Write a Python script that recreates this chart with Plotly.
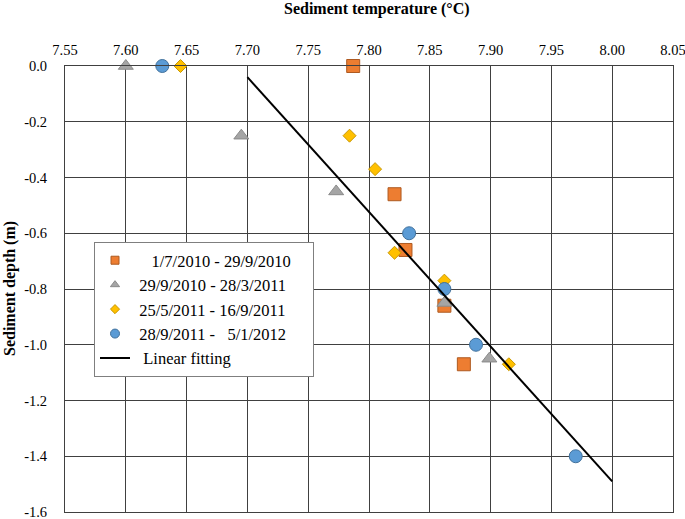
import plotly.graph_objects as go

# Series 1: 1/7/2010 - 29/9/2010
s1_temp = [7.787, 7.821, 7.830, 7.862, 7.878]
s1_depth = [0.0, -0.46, -0.66, -0.86, -1.07]
# Series 2: 29/9/2010 - 28/3/2011
s2_temp = [7.600, 7.695, 7.773, 7.862, 7.899]
s2_depth = [0.0, -0.25, -0.45, -0.85, -1.05]
# Series 3: 25/5/2011 - 16/9/2011
s3_temp = [7.645, 7.784, 7.805, 7.821, 7.862, 7.915]
s3_depth = [0.0, -0.25, -0.37, -0.67, -0.77, -1.07]
# Series 4: 28/9/2011 - 5/1/2012
s4_temp = [7.630, 7.833, 7.862, 7.888, 7.970]
s4_depth = [0.0, -0.60, -0.80, -1.00, -1.40]
# Linear fitting endpoints
fit_temp = [7.70, 8.00]
fit_depth = [-0.04, -1.49]

x_ticks = [7.55, 7.60, 7.65, 7.70, 7.75, 7.80, 7.85, 7.90, 7.95, 8.00, 8.05]
y_ticks = [0.0, -0.2, -0.4, -0.6, -0.8, -1.0, -1.2, -1.4, -1.6]

NB = "\u00a0"
TAIL = NB * 4
names = [
    NB * 4 + "1/7/2010 - 29/9/2010" + TAIL,
    NB + "29/9/2010 - 28/3/2011" + TAIL,
    NB + "25/5/2011 - 16/9/2011" + TAIL,
    NB + "28/9/2011 -" + NB * 3 + "5/1/2012" + TAIL,
    NB * 2 + "Linear fitting",
]

series = [
    (s1_temp, s1_depth, "square", 13, 8, "#ED7D31", "#AE5A21"),
    (s2_temp, s2_depth, "triangle-up", 13, 8, "#A5A5A5", "#8A8A8A"),
    (s3_temp, s3_depth, "diamond", 10, 7, "#FFC000", "#C99700"),
    (s4_temp, s4_depth, "circle", 13, 9, "#5B9BD5", "#41719C"),
]

fig = go.Figure()
for i, (xs, ys, sym, size, lsize, col, lcol) in enumerate(series):
    fig.add_trace(go.Scatter(x=xs, y=ys, mode="markers", name=names[i], showlegend=False,
                             legendgroup=str(i),
                             marker=dict(symbol=sym, size=size, color=col,
                                         line=dict(color=lcol, width=1)), cliponaxis=False))
    # legend entry with the smaller legend marker
    fig.add_trace(go.Scatter(x=[None], y=[None], mode="markers", name=names[i],
                             legendgroup=str(i),
                             marker=dict(symbol=sym, size=lsize, color=col,
                                         line=dict(color=lcol, width=1))))
fig.add_trace(go.Scatter(x=fit_temp, y=fit_depth, mode="lines", name=names[4],
                         line=dict(color="black", width=2)))

fig.update_layout(
    width=685, height=519,
    margin=dict(l=65, r=12, t=66, b=7),
    paper_bgcolor="white", plot_bgcolor="white",
    font=dict(family="Liberation Serif", color="black", size=14.5),
    showlegend=True,
    legend=dict(x=0.0477, y=(512 - 242) / 446, xanchor="left", yanchor="top",
                bgcolor="white", bordercolor="#7F7F7F", borderwidth=1,
                font=dict(family="Liberation Serif", size=16.5, color="black"),
                tracegroupgap=0, itemwidth=30),
    xaxis=dict(side="top", range=[7.55, 8.05], tickvals=x_ticks,
               ticktext=[f"{v:.2f}" for v in x_ticks],
               showgrid=True, gridcolor="#404040", gridwidth=1,
               showline=True, linecolor="#404040", linewidth=1, mirror=True,
               zeroline=False, ticks="outside", ticklen=4, tickcolor="rgba(0,0,0,0)",
               automargin=False, ticklabeloverflow="allow"),
    yaxis=dict(range=[-1.6, 0.0], tickvals=y_ticks,
               ticktext=[f"{v:.1f}" for v in y_ticks],
               showgrid=True, gridcolor="#404040", gridwidth=1,
               showline=True, linecolor="#404040", linewidth=1, mirror=True,
               zeroline=False, ticks="outside", ticklen=14, tickcolor="rgba(0,0,0,0)",
               automargin=False, ticklabeloverflow="allow"),
    annotations=[
        dict(text="<b>Sediment temperature (°C)</b>", xref="paper", yref="paper",
             x=(376.7 - 65) / 608, y=(512 - 9) / 446, xanchor="center", yanchor="middle",
             showarrow=False, font=dict(family="Liberation Serif", size=16)),
        dict(text="<b>Sediment depth (m)</b>", xref="paper", yref="paper",
             x=(10 - 65) / 608, y=0.5, xanchor="center", yanchor="middle",
             textangle=-90, showarrow=False,
             font=dict(family="Liberation Serif", size=16)),
    ],
)

fig.write_html("out.html", config={"displayModeBar": False},
               post_script="document.body.style.margin='0';document.body.style.overflow='hidden';")
